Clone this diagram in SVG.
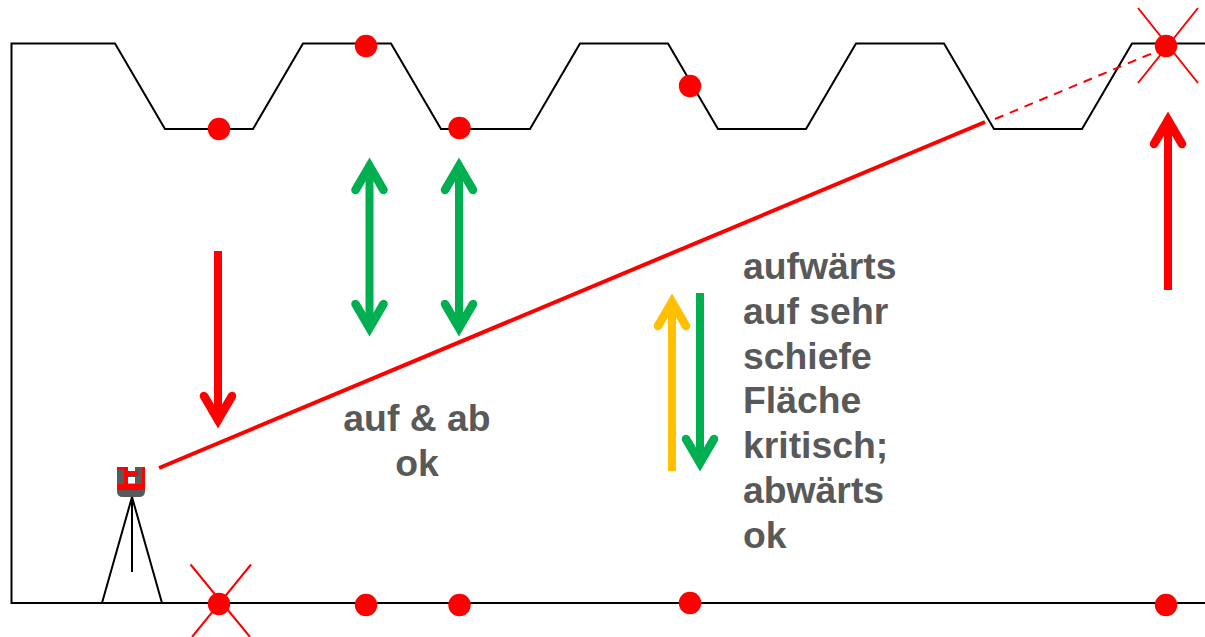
<svg xmlns="http://www.w3.org/2000/svg" width="1205" height="637" viewBox="0 0 1205 637">
<style>
.b{fill:none;stroke:#000;stroke-width:2}
.d{fill:#f00}
.x{stroke:#f00;stroke-width:2;fill:none}
.a{fill:none;stroke-width:8.500;stroke-linecap:round;stroke-linejoin:miter;stroke-miterlimit:10}
.s{fill:none;stroke-width:8}
.t{font-family:"Liberation Sans",Arial,sans-serif;font-weight:700;font-size:37.330px;fill:#595959}
</style>
<rect width="1205" height="637" fill="#fff"/>
<g id="terrain">
<path class="b" d="M1205 43.500H1132L1082 129H994L944 43.500H856L806 129H718L668 43.500H580L530 129H441L391 43.500H303L253 129H165L115 43.500H11.500V603H1205"/>
</g>
<g id="connectors">
<path d="M159 468L985 122" fill="none" stroke="#f00" stroke-width="4"/>
<path d="M995 119L1160 50" fill="none" stroke="#f00" stroke-width="2" stroke-dasharray="9 7"/>
<g id="arrow-red-down"><path class="s" stroke="#f00" d="M218 251V420"/><path class="a" stroke="#f00" d="M204 396L218 420L232 396"/></g>
<g id="arrow-red-up"><path class="s" stroke="#f00" d="M1168 290V122"/><path class="a" stroke="#f00" d="M1154 144L1168 120L1182 144"/></g>
<g id="arrow-green-1"><path class="s" stroke="#00b050" d="M369.500 168V326"/><path class="a" stroke="#00b050" d="M355.500 190L369.500 166L383.500 190M355.500 304L369.500 328L383.500 304"/></g>
<g id="arrow-green-2"><path class="s" stroke="#00b050" d="M459 168V326"/><path class="a" stroke="#00b050" d="M445 190L459 166L473 190M445 304L459 328L473 304"/></g>
<g id="arrow-yellow-up"><path class="s" stroke="#ffc000" d="M672 471V304"/><path class="a" stroke="#ffc000" d="M658 326L672 302L686 326"/></g>
<g id="arrow-green-down"><path class="s" stroke="#00b050" d="M700 293V461"/><path class="a" stroke="#00b050" d="M686 439L700 463L714 439"/></g>
</g>
<g id="total-station">
<path d="M117 467H128V471H135V467H145V491Q145 497 139 497H123Q117 497 117 491Z" fill="#595959"/>
<path d="M117 467H128V471H138V476H128V484H142V467H145V490H117V484H124V469.500H117Z" fill="#f00"/>
<rect x="128" y="477" width="7" height="6.500" fill="#fff"/>
<path d="M132 497L102 603M132 497L162 603M132 497V572" class="b"/>
</g>
<g id="targets-top">
<circle class="d" cx="219" cy="129" r="11.200"/>
<circle class="d" cx="366" cy="46" r="11.200"/>
<circle class="d" cx="459.500" cy="128" r="11.200"/>
<circle class="d" cx="690" cy="86" r="11.200"/>
</g>
<g id="target-cross-top">
<path class="x" d="M1138 8L1198 83M1198 8L1138 83"/>
<circle class="d" cx="1166" cy="46" r="11.200"/>
</g>
<g id="targets-bottom">
<circle class="d" cx="366" cy="605" r="11.200"/>
<circle class="d" cx="459.500" cy="605" r="11.200"/>
<circle class="d" cx="690" cy="603" r="11.200"/>
<circle class="d" cx="1166" cy="605" r="11.200"/>
</g>
<g id="target-cross-bottom">
<path class="x" d="M190.500 564.500L250 637M251 564.500L192 637"/>
<circle class="d" cx="219" cy="604" r="11.200"/>
</g>
<g id="label-ok" class="t" text-anchor="middle">
<text x="417" y="431">auf &amp; ab</text>
<text x="417" y="476">ok</text>
</g>
<g id="label-critical" class="t">
<text x="743" y="279">aufwärts</text>
<text x="743" y="324">auf sehr</text>
<text x="743" y="369">schiefe</text>
<text x="743" y="413">Fläche</text>
<text x="743" y="458">kritisch;</text>
<text x="743" y="503">abwärts</text>
<text x="743" y="548">ok</text>
</g>
</svg>
